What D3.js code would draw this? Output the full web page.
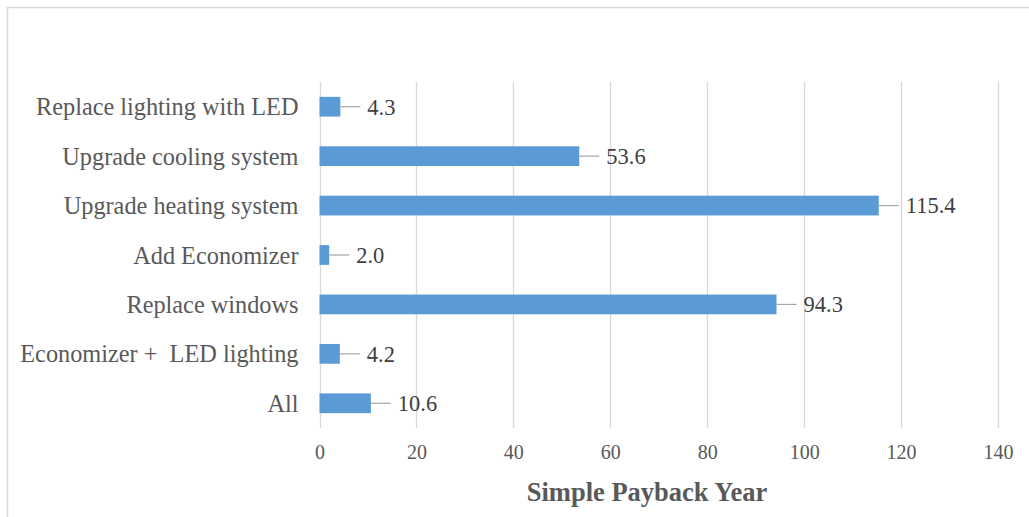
<!DOCTYPE html>
<html><head><meta charset="utf-8">
<script src="https://cdn.jsdelivr.net/npm/d3@7"></script>
<style>body{margin:0;background:#fff}svg{display:block}text{font-family:"Liberation Serif","Times New Roman",serif;white-space:pre}</style>
</head><body><svg id="c" width="1029" height="517"></svg>
<script>
const categories = ["Replace lighting with LED","Upgrade cooling system","Upgrade heating system","Add Economizer","Replace windows","Economizer +  LED lighting","All"];
const values = [4.3, 53.6, 115.4, 2.0, 94.3, 4.2, 10.6];
const tickValues = [0,20,40,60,80,100,120,140];
const axisTitle = "Simple Payback Year";

const svg = d3.select("#c");
svg.append("rect").attr("x",7.5).attr("y",7.5).attr("width",1030).attr("height",520)
  .attr("fill","#fff").attr("stroke","#d9d9d9").attr("stroke-width",1.5);

const m = {left:319.5, right:998, top:82, bottom:428};
const x = d3.scaleLinear().domain([0,140]).range([m.left,m.right]);
const y = d3.scaleBand().domain(categories).range([m.top,m.bottom]).paddingInner(0.6).paddingOuter(0.3);

// gridlines
svg.append("g").selectAll("line").data(tickValues).join("line")
  .attr("x1",d=>Math.round(x(d))+0.5).attr("x2",d=>Math.round(x(d))+0.5)
  .attr("y1",m.top).attr("y2",m.bottom).attr("stroke","#d9d9d9").attr("stroke-width",1.3);

// x axis labels
const xa = svg.append("g").attr("transform",`translate(0,${m.bottom})`)
  .call(d3.axisBottom(x).tickValues(tickValues).tickSize(0).tickPadding(17).tickFormat(d3.format("d")));
xa.select(".domain").remove();
xa.selectAll("text").attr("font-size",20).attr("fill","#595959").attr("font-family","Liberation Serif");

// y axis labels
const ya = svg.append("g").attr("transform",`translate(${m.left},0)`)
  .call(d3.axisLeft(y).tickSize(0).tickPadding(21));
ya.select(".domain").remove();
ya.selectAll("text").attr("font-size",24.3).attr("fill","#595959").attr("font-family","Liberation Serif").attr("dy","0.35em");

// bars
svg.append("g").selectAll("rect").data(values).join("rect")
  .attr("x",x(0)).attr("y",(d,i)=>y(categories[i]))
  .attr("width",d=>x(d)-x(0)).attr("height",y.bandwidth()).attr("fill","#5b9bd5");

// leader lines
svg.append("g").selectAll("line").data(values).join("line")
  .attr("x1",d=>x(d)).attr("x2",d=>x(d)+20)
  .attr("y1",(d,i)=>y(categories[i])+y.bandwidth()/2).attr("y2",(d,i)=>y(categories[i])+y.bandwidth()/2)
  .attr("stroke","#a6a6a6").attr("stroke-width",1.2);

// value labels
svg.append("g").selectAll("text").data(values).join("text")
  .attr("x",d=>x(d)+27).attr("y",(d,i)=>y(categories[i])+y.bandwidth()/2).attr("dy","0.35em")
  .attr("font-size",22.5).attr("fill","#404040").text(d=>d.toFixed(1));

svg.append("text").attr("x",647).attr("y",501).attr("text-anchor","middle")
  .attr("font-size",26.5).attr("font-weight","bold").attr("fill","#595959").text(axisTitle);
</script></body></html>
